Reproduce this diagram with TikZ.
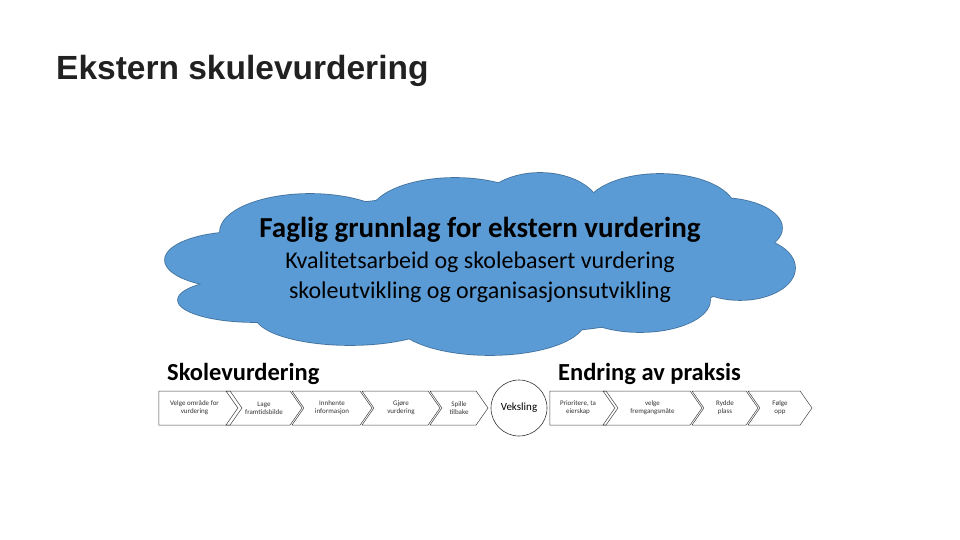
\documentclass[tikz,border=0pt]{standalone}
\usepackage{fontspec}
\setmainfont{Carlito}
\newfontfamily\titlefont{Liberation Sans}
\usetikzlibrary{shapes.symbols,positioning}
\definecolor{CloudBlue}{HTML}{5B9BD5}
\definecolor{CloudLine}{HTML}{41719C}
\definecolor{Ink}{HTML}{212121}
\tikzset{
  cloudrim/.style={draw=CloudLine,line width=1.6pt},
  cloudfill/.style={fill=CloudBlue},
  chev/.style={signal,signal to=east,signal from=west,signal pointer angle=110,draw=black!75,line width=.5pt,minimum height=34pt,inner sep=0pt,align=center,font=\fontsize{7}{8}\selectfont,text=black!80},
  homeplate/.style={chev,signal from=nowhere},
  heading/.style={anchor=base west,inner sep=0pt,font=\fontsize{24.5}{28}\selectfont\bfseries},
}
\begin{document}
\begin{tikzpicture}[x=1pt,y=-1pt]
  \useasboundingbox (0,0) rectangle (960,540);
  \node[anchor=base west,inner sep=0pt,text=Ink,font=\titlefont\bfseries\fontsize{33.5}{38}\selectfont] (title) at (56,80) {Ekstern skulevurdering};

  % cloud made of puffs
  \foreach \cx/\cy/\rx/\ry in {310/232/90/38,455/215/85/37,540/210/60/37,660/210/75/36,720/228/62/30,740/268/55/32,640/300/70/32,490/320/95/35,350/315/95/30,255/300/77/22,240/260/75/28,480/265/260/70}
    \draw[cloudrim] (\cx,\cy) ellipse [x radius=\rx pt,y radius=\ry pt];
  \foreach \cx/\cy/\rx/\ry in {310/232/90/38,455/215/85/37,540/210/60/37,660/210/75/36,720/228/62/30,740/268/55/32,640/300/70/32,490/320/95/35,350/315/95/30,255/300/77/22,240/260/75/28,480/265/260/70}
    \fill[cloudfill] (\cx,\cy) ellipse [x radius=\rx pt,y radius=\ry pt];
  \node[align=center,inner sep=0pt,font=\fontsize{24}{30}\selectfont] (grunnlag) at (480,260) {%
    {\fontsize{29}{30}\selectfont\bfseries Faglig grunnlag for ekstern vurdering}\\[1pt]
    Kvalitetsarbeid og skolebasert vurdering\\
    skoleutvikling og organisasjonsutvikling};

  \node[heading] (skole) at (167,380) {Skolevurdering};
  \node[heading] (endring) at (558,380) {Endring av praksis};

  \node[homeplate,minimum width=83pt] (s1) at (194.5,408) {Velge område for\\vurdering};
  \node[chev,minimum width=76pt] (s2) at (264,408) {Lage\\framtidsbilde};
  \node[chev,minimum width=80pt] (s3) at (332,408) {Innhente\\informasjon};
  \node[chev,minimum width=78pt] (s4) at (401,408) {Gjøre\\vurdering};
  \node[chev,minimum width=58pt] (s5) at (459,408) {Spille\\tilbake};

  \node[circle,draw=black!80,line width=.6pt,minimum size=56pt,inner sep=0pt,font=\fontsize{11}{12}\selectfont] (veksling) at (519,408) {Veksling};

  \node[homeplate,minimum width=68pt] (e1) at (578,408) {Prioritere, ta\\eierskap};
  \node[chev,minimum width=99pt] (e2) at (652.5,408) {velge\\fremgangsmåte};
  \node[chev,minimum width=66pt] (e3) at (725,408) {Rydde\\plass};
  \node[chev,minimum width=64pt] (e4) at (780,408) {Følge\\opp};
\end{tikzpicture}
\end{document}
